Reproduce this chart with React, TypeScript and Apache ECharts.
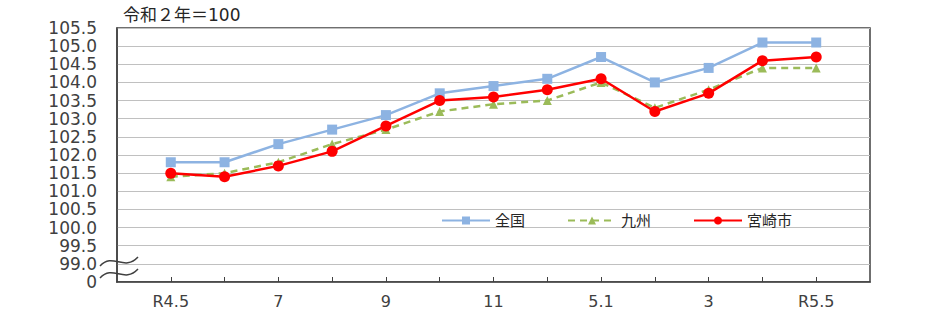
import React, { useEffect, useRef } from "react";
import * as echarts from "echarts";

const categories = ["R4.5", "6", "7", "8", "9", "10", "11", "12", "5.1", "2", "3", "4", "R5.5"];
const zenkoku = [101.8, 101.8, 102.3, 102.7, 103.1, 103.7, 103.9, 104.1, 104.7, 104.0, 104.4, 105.1, 105.1];
const kyushu = [101.4, 101.5, 101.8, 102.3, 102.7, 103.2, 103.4, 103.5, 104.0, 103.3, 103.8, 104.4, 104.4];
const miyazaki = [101.5, 101.4, 101.7, 102.1, 102.8, 103.5, 103.6, 103.8, 104.1, 103.2, 103.7, 104.6, 104.7];
const seriesNames = ["全国", "九州", "宮崎市"];
const yMin = 98.5;
const yMax = 105.5;
const yStep = 0.5;
const title = "令和２年＝100";

const FONT = "'DejaVu Sans', 'Noto Sans CJK JP', sans-serif";

export default function App() {
  const ref = useRef<HTMLDivElement>(null);
  useEffect(() => {
    document.body.style.margin = "0";
    if (!ref.current) return;
    const chart = echarts.init(ref.current, undefined, { renderer: "svg" });
    const axisData = ["", ...categories, ""];
    const pad = (a: number[]) => [null, ...a, null];
    chart.setOption({
      animation: false,
      textStyle: { fontFamily: FONT },
      grid: {
        left: 117,
        right: 62,
        top: 28,
        bottom: 48,
        show: true,
        borderColor: "#404040",
        borderWidth: 1.5,
        backgroundColor: "transparent",
      },
      legend: {
        left: 441,
        top: 213,
        padding: 0,
        itemWidth: 48,
        itemHeight: 10,
        itemGap: 42,
        textStyle: { fontSize: 15, color: "#262626", fontFamily: FONT },
        data: seriesNames,
      },
      xAxis: {
        type: "category",
        data: axisData,
        boundaryGap: false,
        axisLine: { lineStyle: { color: "#404040", width: 1.5 } },
        axisTick: {
          inside: true,
          length: 5,
          interval: (i: number) => i >= 1 && i <= categories.length,
          lineStyle: { color: "#404040" },
        },
        axisLabel: {
          interval: (i: number) => i % 2 === 1,
          fontSize: 16,
          color: "#404040",
          margin: 11,
          fontFamily: FONT,
        },
        splitLine: { show: false },
      },
      yAxis: {
        type: "value",
        min: yMin,
        max: yMax,
        interval: yStep,
        axisLine: { show: true, lineStyle: { color: "#404040", width: 1.5 } },
        axisTick: { show: false },
        axisLabel: {
          fontSize: 17,
          lineHeight: 17,
          color: "#404040",
          margin: 20,
          fontFamily: FONT,
          formatter: (v: number) => (Math.abs(v - yMin) < 1e-6 ? "0" : v.toFixed(1)),
        },
        splitLine: { lineStyle: { color: "#c0c0c0", width: 1 } },
      },
      graphic: [
        {
          type: "text",
          left: 123,
          top: 6,
          style: { text: title, fill: "#262626", font: `17px ${FONT}` },
        },
        {
          type: "bezierCurve",
          shape: { x1: 100, y1: 266, cpx1: 113, cpy1: 252, cpx2: 124, cpy2: 272, x2: 138, y2: 257 },
          style: { stroke: "#404040", lineWidth: 1.5, fill: "none" },
        },
        {
          type: "bezierCurve",
          shape: { x1: 100, y1: 278, cpx1: 113, cpy1: 264, cpx2: 124, cpy2: 284, x2: 138, y2: 269 },
          style: { stroke: "#404040", lineWidth: 1.5, fill: "none" },
        },
      ],
      series: [
        {
          name: seriesNames[0],
          type: "line",
          data: pad(zenkoku),
          symbol: "rect",
          symbolSize: 10,
          itemStyle: { color: "#8db3e2" },
          lineStyle: { color: "#8db3e2", width: 2.5 },
          z: 3,
        },
        {
          name: seriesNames[1],
          type: "line",
          data: pad(kyushu),
          symbol: "triangle",
          symbolSize: 9,
          itemStyle: { color: "#9bbb59" },
          lineStyle: { color: "#9bbb59", width: 2.5, type: [7, 5] },
          z: 2,
        },
        {
          name: seriesNames[2],
          type: "line",
          data: pad(miyazaki),
          symbol: "circle",
          symbolSize: 11,
          itemStyle: { color: "#ff0000" },
          lineStyle: { color: "#ff0000", width: 2.5 },
          z: 4,
        },
      ],
    });
    return () => chart.dispose();
  }, []);
  return <div ref={ref} style={{ width: 932, height: 330 }} />;
}
